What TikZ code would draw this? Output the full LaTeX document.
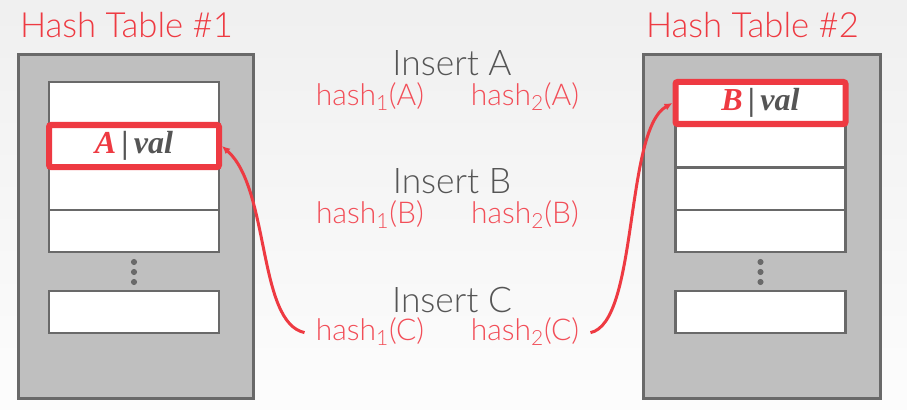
\documentclass[tikz,border=0pt]{standalone}
\usepackage{fontspec}
\IfFontExistsTF{Lato Light}{\setmainfont{Lato Light}}{\setmainfont{Lato}}
\newfontfamily\valfont{Liberation Serif}
\usepackage{xcolor}
\usetikzlibrary{arrows.meta, positioning, calc}
\definecolor{SlideRed}{RGB}{238, 58, 66}
\definecolor{HashRed}{RGB}{242, 78, 88}
\definecolor{TextGray}{RGB}{85, 85, 85}
\definecolor{BoxGray}{RGB}{105, 105, 105}
\definecolor{FillGray}{RGB}{191, 191, 191}

\begin{document}
\begin{tikzpicture}[x=0.75pt, y=-0.75pt,
    table/.style={draw=BoxGray, fill=FillGray, line width=2.25pt, inner sep=0pt},
    slot/.style={draw=BoxGray, fill=white, line width=2pt, minimum width=127.5pt, minimum height=31.5pt, inner sep=0pt},
    hit/.style={slot, draw=SlideRed, line width=4.5pt, rounded corners=1.5pt},
    title/.style={anchor=base, text=SlideRed, font=\fontsize{26}{30}\selectfont},
    step label/.style={anchor=base, text=TextGray, font=\fontsize{26.5}{30}\selectfont},
    hashfn/.style={anchor=base, text=HashRed, font=\fontsize{22.5}{26}\selectfont},
    entry/.style={font=\valfont\bfseries\itshape\fontsize{24}{28}\selectfont, text=TextGray},
    link/.style={draw=SlideRed, line width=2.25pt, -{Latex[length=6pt, width=5.5pt]}}]
    % 背景
    \shade[top color=black!6, bottom color=black!1] (0,0) rectangle (907,410);
    \useasboundingbox (0,0) rectangle (907,410);

    % 标题
    \node[title] (title1) at (126.5,38) {Hash Table \#1};
    \node[title] (title2) at (752.5,38) {Hash Table \#2};

    % 哈希表 #1
    \node[table, minimum width=176.25pt, minimum height=257.25pt] (tbl1) at (135.5,226.5) {};
    \node[slot] (s11) at (134,103) {};
    \node[slot] (s13) at (134,189) {};
    \node[slot] (s14) at (134,231) {};
    \node[slot] (s1n) at (134,312) {};
    \node[hit, entry] (a1) at (134,146) {{\color{SlideRed}A}\,|\,val};
    \foreach \y in {262,272,282}
        \fill[BoxGray] (134,\y) circle (2.3pt);

    % 哈希表 #2
    \node[table, minimum width=177.75pt, minimum height=257.25pt] (tbl2) at (761.5,226.5) {};
    \node[slot] (s22) at (760.5,146) {};
    \node[slot] (s23) at (760.5,189) {};
    \node[slot] (s24) at (760.5,231) {};
    \node[slot] (s2n) at (760.5,312) {};
    \node[hit, entry] (b2) at (760.5,103) {{\color{SlideRed}B}\,|\,val};
    \foreach \y in {262,272,282}
        \fill[BoxGray] (760.5,\y) circle (2.3pt);

    % 插入操作
    \node[step label] (insA) at (452,75) {Insert A};
    \node[hashfn] (h1a) at (370,105) {hash\textsubscript{1}(A)};
    \node[hashfn] (h2a) at (525,105) {hash\textsubscript{2}(A)};

    \node[step label] (insB) at (452,193) {Insert B};
    \node[hashfn] (h1b) at (370,223) {hash\textsubscript{1}(B)};
    \node[hashfn] (h2b) at (525,223) {hash\textsubscript{2}(B)};

    \node[step label] (insC) at (452,312) {Insert C};
    \node[hashfn] (h1c) at (370,340) {hash\textsubscript{1}(C)};
    \node[hashfn] (h2c) at (525,340) {hash\textsubscript{2}(C)};

    % 冲突: C 的两个位置都被占用
    \draw[link] ([xshift=-5pt, yshift=-1pt]h1c.west) .. controls +(-47,-10) and +(48,43) .. (a1.east);
    \draw[link] ([xshift=5pt, yshift=-1pt]h2c.east) .. controls +(48,-10) and +(-48,27) .. (b2.west);
\end{tikzpicture}
\end{document}
